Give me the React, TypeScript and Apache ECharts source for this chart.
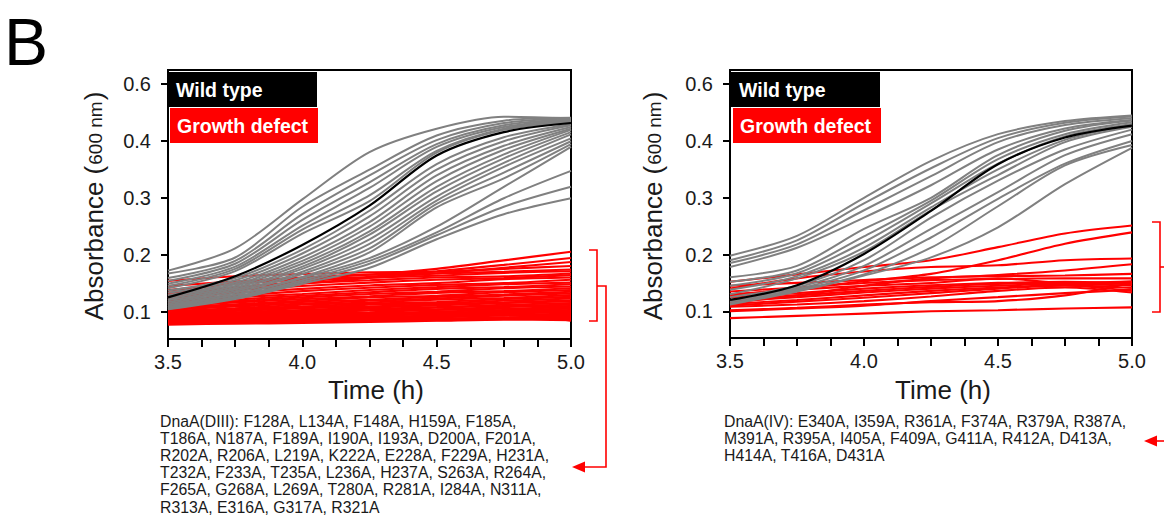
import React, { useEffect, useRef } from 'react';
import * as echarts from 'echarts';

const FONT = '"Liberation Sans", Arial, Helvetica, sans-serif';

const times = [3.5, 3.75, 4.0, 4.25, 4.5, 4.75, 5.0];
const xLabelValues = [3.5, 4.0, 4.5, 5.0];
const xTickValues = [3.5, 3.625, 3.75, 3.875, 4.0, 4.125, 4.25, 4.375, 4.5, 4.625, 4.75, 4.875, 5.0];
const yTickValues = [0.1, 0.2, 0.3, 0.4, 0.5];
const yTickLabels = ['0.1', '0.2', '0.3', '0.4', '0.6'];

// ---- Panel DnaA(DIII) ----
const wildTypeDIII = [0.126, 0.163, 0.218, 0.287, 0.375, 0.416, 0.432];
const normalDIII = [
  [0.173, 0.212, 0.298, 0.381, 0.422, 0.443, 0.440],
  [0.168, 0.196, 0.285, 0.350, 0.410, 0.436, 0.441],
  [0.160, 0.190, 0.272, 0.340, 0.402, 0.432, 0.440],
  [0.155, 0.185, 0.262, 0.328, 0.395, 0.428, 0.438],
  [0.150, 0.180, 0.252, 0.318, 0.390, 0.425, 0.437],
  [0.146, 0.176, 0.245, 0.305, 0.383, 0.422, 0.435],
  [0.142, 0.172, 0.238, 0.295, 0.380, 0.420, 0.433],
  [0.138, 0.160, 0.210, 0.278, 0.360, 0.407, 0.430],
  [0.134, 0.156, 0.203, 0.268, 0.350, 0.400, 0.428],
  [0.130, 0.152, 0.196, 0.258, 0.340, 0.392, 0.425],
  [0.127, 0.149, 0.190, 0.250, 0.330, 0.385, 0.422],
  [0.124, 0.146, 0.185, 0.242, 0.320, 0.377, 0.420],
  [0.121, 0.143, 0.180, 0.236, 0.312, 0.370, 0.416],
  [0.118, 0.140, 0.176, 0.228, 0.303, 0.362, 0.412],
  [0.115, 0.137, 0.171, 0.220, 0.296, 0.355, 0.405],
  [0.112, 0.134, 0.167, 0.212, 0.290, 0.345, 0.400],
  [0.109, 0.131, 0.162, 0.205, 0.284, 0.335, 0.395],
  [0.112, 0.130, 0.160, 0.195, 0.250, 0.320, 0.390],
  [0.108, 0.127, 0.156, 0.190, 0.240, 0.300, 0.348],
  [0.106, 0.125, 0.153, 0.185, 0.235, 0.285, 0.320],
  [0.105, 0.123, 0.150, 0.178, 0.228, 0.272, 0.300],
];
const defectDIII = [
  [0.138, 0.150, 0.160, 0.166, 0.176, 0.191, 0.206],
  [0.130, 0.143, 0.154, 0.162, 0.172, 0.183, 0.195],
  [0.125, 0.138, 0.150, 0.160, 0.168, 0.178, 0.188],
  [0.155, 0.163, 0.167, 0.170, 0.171, 0.176, 0.181],
  [0.146, 0.154, 0.161, 0.166, 0.168, 0.171, 0.175],
  [0.139, 0.150, 0.157, 0.161, 0.164, 0.169, 0.172],
  [0.134, 0.144, 0.151, 0.156, 0.161, 0.163, 0.168],
  [0.129, 0.139, 0.146, 0.152, 0.157, 0.160, 0.165],
  [0.125, 0.134, 0.141, 0.147, 0.151, 0.158, 0.161],
  [0.121, 0.129, 0.137, 0.143, 0.148, 0.151, 0.157],
  [0.118, 0.126, 0.132, 0.139, 0.144, 0.149, 0.152],
  [0.115, 0.122, 0.129, 0.135, 0.141, 0.144, 0.149],
  [0.112, 0.119, 0.126, 0.132, 0.136, 0.142, 0.145],
  [0.110, 0.117, 0.123, 0.128, 0.134, 0.137, 0.142],
  [0.108, 0.114, 0.120, 0.126, 0.129, 0.135, 0.139],
  [0.106, 0.112, 0.118, 0.122, 0.127, 0.131, 0.136],
  [0.104, 0.110, 0.115, 0.120, 0.124, 0.129, 0.133],
  [0.102, 0.107, 0.113, 0.117, 0.122, 0.125, 0.130],
  [0.100, 0.106, 0.110, 0.115, 0.118, 0.123, 0.127],
  [0.099, 0.104, 0.108, 0.113, 0.116, 0.120, 0.124],
  [0.097, 0.102, 0.107, 0.110, 0.114, 0.117, 0.121],
  [0.095, 0.100, 0.104, 0.108, 0.112, 0.116, 0.119],
  [0.094, 0.098, 0.103, 0.106, 0.109, 0.113, 0.116],
  [0.092, 0.097, 0.101, 0.104, 0.108, 0.111, 0.113],
  [0.091, 0.095, 0.099, 0.103, 0.105, 0.109, 0.111],
  [0.090, 0.094, 0.097, 0.100, 0.104, 0.106, 0.109],
  [0.089, 0.092, 0.096, 0.098, 0.101, 0.104, 0.106],
  [0.088, 0.091, 0.094, 0.097, 0.099, 0.102, 0.104],
  [0.087, 0.090, 0.093, 0.095, 0.098, 0.100, 0.102],
  [0.086, 0.088, 0.091, 0.094, 0.096, 0.098, 0.100],
  [0.085, 0.087, 0.090, 0.092, 0.094, 0.096, 0.097],
  [0.084, 0.086, 0.088, 0.090, 0.092, 0.094, 0.095],
  [0.083, 0.085, 0.087, 0.089, 0.090, 0.096, 0.085],
  [0.082, 0.084, 0.086, 0.088, 0.089, 0.091, 0.093],
  [0.081, 0.083, 0.085, 0.086, 0.088, 0.090, 0.090],
  [0.080, 0.082, 0.083, 0.085, 0.086, 0.088, 0.088],
  [0.078, 0.080, 0.081, 0.083, 0.085, 0.087, 0.086],
];

// ---- Panel DnaA(IV) ----
const wildTypeIV = [0.120, 0.146, 0.201, 0.277, 0.359, 0.406, 0.427];
const normalIV = [
  [0.198, 0.233, 0.300, 0.365, 0.412, 0.435, 0.445],
  [0.190, 0.225, 0.290, 0.352, 0.405, 0.432, 0.443],
  [0.185, 0.218, 0.278, 0.338, 0.398, 0.428, 0.440],
  [0.178, 0.212, 0.265, 0.322, 0.385, 0.422, 0.437],
  [0.160, 0.180, 0.245, 0.300, 0.375, 0.418, 0.436],
  [0.152, 0.172, 0.232, 0.295, 0.368, 0.412, 0.433],
  [0.145, 0.167, 0.222, 0.290, 0.360, 0.408, 0.430],
  [0.138, 0.162, 0.212, 0.283, 0.350, 0.402, 0.428],
  [0.130, 0.158, 0.205, 0.278, 0.340, 0.398, 0.425],
  [0.125, 0.145, 0.190, 0.265, 0.330, 0.385, 0.420],
  [0.120, 0.142, 0.180, 0.245, 0.310, 0.375, 0.412],
  [0.117, 0.139, 0.172, 0.230, 0.298, 0.360, 0.400],
  [0.114, 0.137, 0.165, 0.212, 0.285, 0.357, 0.393],
  [0.112, 0.135, 0.163, 0.195, 0.248, 0.324, 0.388],
];
const defectIV = [
  [0.152, 0.165, 0.178, 0.190, 0.213, 0.237, 0.251],
  [0.128, 0.140, 0.153, 0.166, 0.190, 0.219, 0.239],
  [0.140, 0.158, 0.170, 0.178, 0.181, 0.190, 0.193],
  [0.115, 0.128, 0.145, 0.158, 0.164, 0.172, 0.183],
  [0.145, 0.150, 0.155, 0.160, 0.162, 0.163, 0.166],
  [0.135, 0.142, 0.150, 0.155, 0.157, 0.158, 0.158],
  [0.130, 0.138, 0.145, 0.150, 0.158, 0.150, 0.153],
  [0.125, 0.132, 0.140, 0.146, 0.150, 0.152, 0.150],
  [0.120, 0.128, 0.136, 0.143, 0.148, 0.150, 0.148],
  [0.118, 0.125, 0.133, 0.140, 0.145, 0.148, 0.145],
  [0.113, 0.120, 0.128, 0.136, 0.142, 0.146, 0.141],
  [0.110, 0.117, 0.124, 0.132, 0.140, 0.145, 0.136],
  [0.108, 0.112, 0.118, 0.126, 0.136, 0.142, 0.133],
  [0.102, 0.106, 0.112, 0.116, 0.118, 0.128, 0.150],
  [0.088, 0.092, 0.096, 0.100, 0.102, 0.105, 0.107],
  [0.100, 0.105, 0.110, 0.118, 0.125, 0.132, 0.138],
];

const noteDIII = [
  'DnaA(DIII): F128A, L134A, F148A, H159A, F185A,',
  'T186A, N187A, F189A, I190A, I193A, D200A, F201A,',
  'R202A, R206A, L219A, K222A, E228A, F229A, H231A,',
  'T232A, F233A, T235A, L236A, H237A, S263A, R264A,',
  'F265A, G268A, L269A, T280A, R281A, I284A, N311A,',
  'R313A, E316A, G317A, R321A',
];
const noteIV = [
  'DnaA(IV): E340A, I359A, R361A, F374A, R379A, R387A,',
  'M391A, R395A, I405A, F409A, G411A, R412A, D413A,',
  'H414A, T416A, D431A',
];

const RED = '#ff0000';
const GRAY = '#808080';
const INK = '#1a1a1a';

function toPairs(vals: number[]) {
  return vals.map((v, i) => [times[i], v]);
}

function lineSeries(vals: number[], idx: number, color: string, width: number, z: number) {
  return {
    type: 'line',
    xAxisIndex: idx,
    yAxisIndex: idx,
    data: toPairs(vals),
    showSymbol: false,
    symbol: 'none',
    smooth: 0.3,
    lineStyle: { color, width },
    z,
    silent: true,
  };
}

function xAxisFor(idx: number) {
  return {
    type: 'value',
    gridIndex: idx,
    min: 3.5,
    max: 5.0,
    axisLine: { show: true, onZero: false, lineStyle: { color: '#000', width: 2 } },
    axisTick: { show: true, customValues: xTickValues, length: 8, lineStyle: { color: '#000', width: 2 } },
    axisLabel: {
      customValues: xLabelValues,
      formatter: (v: number) => v.toFixed(1),
      fontSize: 20,
      fontFamily: FONT,
      color: INK,
      margin: 13,
    },
    splitLine: { show: false },
  };
}

function yAxisFor(idx: number) {
  return {
    type: 'value',
    gridIndex: idx,
    min: 0.053,
    max: 0.525,
    axisLine: { show: true, onZero: false, lineStyle: { color: '#000', width: 2 } },
    axisTick: { show: true, customValues: yTickValues, length: 7, lineStyle: { color: '#000', width: 2 } },
    axisLabel: {
      customValues: yTickValues,
      formatter: (v: number) => {
        let best = 0;
        yTickValues.forEach((t, i) => {
          if (Math.abs(t - v) < Math.abs(yTickValues[best] - v)) best = i;
        });
        return yTickLabels[best];
      },
      fontSize: 20,
      fontFamily: FONT,
      color: INK,
      margin: 17,
    },
    splitLine: { show: false },
  };
}

function legendBoxes(x: number) {
  return [
    { type: 'rect', shape: { x: x, y: 72, width: 149, height: 35 }, style: { fill: '#000' }, z: 50 },
    {
      type: 'text', x: x + 8, y: 90, z: 51,
      style: { text: 'Wild type', fill: '#fff', font: `bold 19.5px ${FONT}`, verticalAlign: 'middle', align: 'left' },
    },
    { type: 'rect', shape: { x: x + 2, y: 108, width: 148, height: 35 }, style: { fill: RED }, z: 50 },
    {
      type: 'text', x: x + 9, y: 125.5, z: 51,
      style: { text: 'Growth defect', fill: '#fff', font: `bold 19.5px ${FONT}`, verticalAlign: 'middle', align: 'left' },
    },
  ];
}

function yTitle(x: number) {
  return {
    type: 'text', x, y: 206, rotation: Math.PI / 2, z: 20,
    style: {
      text: '{a|Absorbance }{a|(}{b|600 nm}{a|)}',
      align: 'center',
      verticalAlign: 'middle',
      rich: {
        a: { fontSize: 26, fontFamily: FONT, fill: INK, verticalAlign: 'bottom', lineHeight: 30 },
        b: { fontSize: 19, fontFamily: FONT, fill: INK, verticalAlign: 'bottom', lineHeight: 30, padding: [0, 1, 2, 1] },
      },
    },
  };
}

function xTitle(x: number) {
  return {
    type: 'text', x, y: 390, z: 20,
    style: { text: 'Time (h)', fill: INK, font: `26px ${FONT}`, align: 'center', verticalAlign: 'middle' },
  };
}

function note(lines: string[], x: number) {
  return {
    type: 'text', x, y: 413, z: 20,
    style: {
      text: lines.join('\n'),
      fill: INK,
      font: `15.8px ${FONT}`,
      lineHeight: 17.1,
      align: 'left',
      verticalAlign: 'top',
    },
  };
}

export default function App() {
  const ref = useRef<HTMLDivElement>(null);

  useEffect(() => {
    if (!ref.current) return;
    const chart = echarts.init(ref.current, undefined, { renderer: 'svg' });

    const series: any[] = [];
    defectDIII.forEach((d) => series.push(lineSeries(d, 0, RED, 2.1, 2)));
    normalDIII.forEach((d) => series.push(lineSeries(d, 0, GRAY, 2, 3)));
    series.push(lineSeries(wildTypeDIII, 0, '#000', 2.2, 4));
    defectIV.forEach((d) => series.push(lineSeries(d, 1, RED, 2.1, 2)));
    normalIV.forEach((d) => series.push(lineSeries(d, 1, GRAY, 2, 3)));
    series.push(lineSeries(wildTypeIV, 1, '#000', 2.2, 4));

    const redStroke = { stroke: RED, lineWidth: 1.6, fill: 'none' };

    chart.setOption({
      animation: false,
      backgroundColor: '#fff',
      grid: [
        { left: 168, top: 70, width: 403, height: 269, show: true, borderColor: '#000', borderWidth: 2, backgroundColor: 'transparent' },
        { left: 730, top: 70, width: 402, height: 268, show: true, borderColor: '#000', borderWidth: 2, backgroundColor: 'transparent' },
      ],
      xAxis: [xAxisFor(0), xAxisFor(1)],
      yAxis: [yAxisFor(0), yAxisFor(1)],
      series,
      graphic: [
        {
          type: 'text', x: 4, y: 42, z: 20,
          style: { text: 'B', fill: '#000', font: `66px ${FONT}`, align: 'left', verticalAlign: 'middle' },
        },
        ...legendBoxes(168),
        ...legendBoxes(731),
        yTitle(92),
        yTitle(651),
        xTitle(376),
        xTitle(943),
        note(noteDIII, 160),
        note(noteIV, 724),
        // left bracket + connector + arrow
        { type: 'polyline', shape: { points: [[589, 250], [597, 250], [597, 321], [589, 321]] }, style: redStroke, z: 20 },
        { type: 'polyline', shape: { points: [[597, 286], [606, 286], [606, 467], [584, 467]] }, style: redStroke, z: 20 },
        { type: 'polygon', shape: { points: [[572, 467], [585, 461.5], [585, 472.5]] }, style: { fill: RED }, z: 20 },
        // right bracket + connector + arrow
        { type: 'polyline', shape: { points: [[1152, 222], [1160, 222], [1160, 312], [1152, 312]] }, style: redStroke, z: 20 },
        { type: 'polyline', shape: { points: [[1160, 267], [1170, 267]] }, style: redStroke, z: 20 },
        { type: 'polyline', shape: { points: [[1156, 441], [1170, 441]] }, style: redStroke, z: 20 },
        { type: 'polygon', shape: { points: [[1144, 441], [1157, 435.5], [1157, 446.5]] }, style: { fill: RED }, z: 20 },
      ],
    });

    return () => chart.dispose();
  }, []);

  return (
    <div
      ref={ref}
      style={{ position: 'fixed', left: 0, top: 0, width: 1164, height: 525, background: '#fff' }}
    />
  );
}
